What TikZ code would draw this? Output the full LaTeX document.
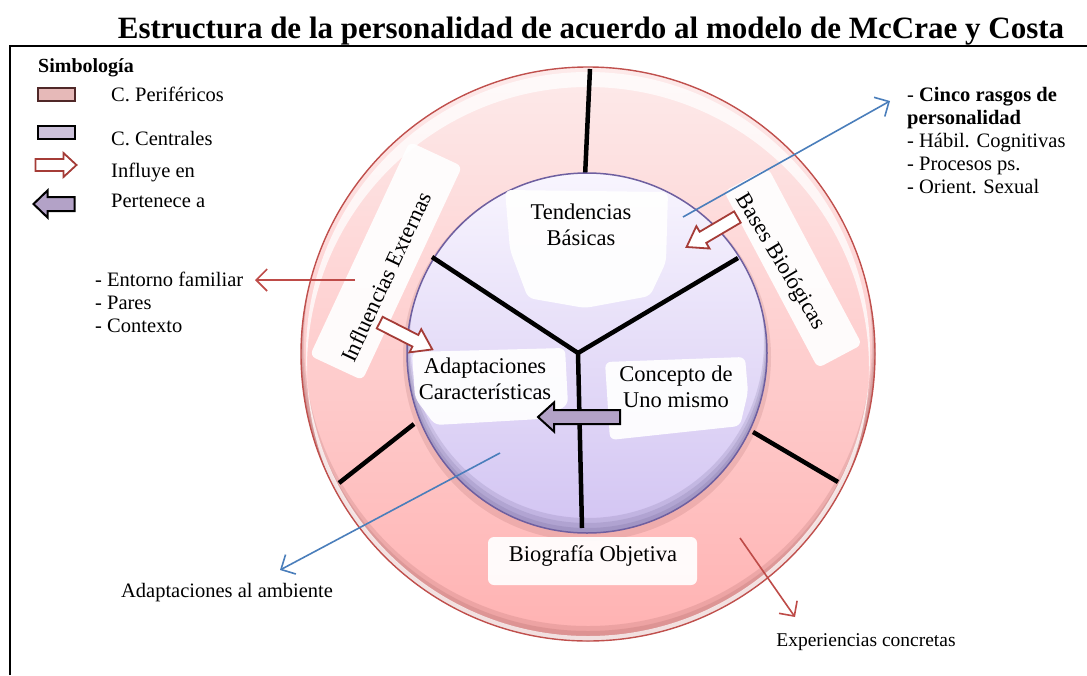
\documentclass[tikz,border=0pt]{standalone}
\usepackage{fontspec}
\setmainfont{Liberation Serif}
\usetikzlibrary{arrows.meta,calc}
\definecolor{blueln}{RGB}{74,126,187}
\definecolor{redln}{RGB}{190,75,72}
\definecolor{arrred}{RGB}{165,60,55}
\definecolor{perpurp}{RGB}{179,162,199}
\definecolor{legpink}{RGB}{230,185,184}
\definecolor{legpurp}{RGB}{204,193,218}
\definecolor{ringtop}{RGB}{253,234,234}
\definecolor{ringbot}{RGB}{255,178,178}
\definecolor{ringedge}{RGB}{192,80,77}
\definecolor{ringrim}{RGB}{120,50,50}
\definecolor{innertop}{RGB}{248,245,254}
\definecolor{innerbot}{RGB}{210,196,242}
\definecolor{inneredge}{RGB}{110,95,160}
\definecolor{innerrim}{RGB}{80,70,120}
\newcommand{\blockarrowshape}[4]{({-(#1)/2},{-(#2)}) -- ({(#1)/2-(#4)},{-(#2)}) -- ({(#1)/2-(#4)},{-(#3)}) -- ({(#1)/2},0) -- ({(#1)/2-(#4)},{#3}) -- ({(#1)/2-(#4)},{#2}) -- ({-(#1)/2},{#2}) -- cycle}
\tikzset{
  body/.style={font=\fontsize{20.5}{23}\selectfont, inner sep=0pt},
  bubble/.style={font=\fontsize{22.5}{26}\selectfont, inner sep=0pt, align=center},
  spoke/.style={line width=4.5pt, black},
  patch/.style={fill=white, opacity=0.93, rounded corners=6pt},
  bluearr/.style={blueln, line width=1.6pt, -{Straight Barb[length=11pt,width=22pt,line width=1.6pt]}},
  redarr/.style={redln, line width=1.6pt, -{Straight Barb[length=11pt,width=22pt,line width=1.6pt]}},
  influyearr/.style={draw=arrred, line width=1.8pt, fill=white, line join=miter},
  pertarr/.style={draw=black, line width=2pt, fill=perpurp, line join=miter}
}
\begin{document}
\begin{tikzpicture}[x=1pt,y=-1pt]
\useasboundingbox (0,0) rectangle (1087,675);
% frame and title
\draw[line width=2.5pt] (10,675) -- (10,46) -- (1087,46);
\node[font=\fontsize{31}{34}\bfseries\selectfont, anchor=base, inner sep=0pt] (title) at (591,38)
  {Estructura de la personalidad de acuerdo al modelo de McCrae y Costa};

% outer circle
\coordinate (O) at (588,354);
\coordinate (I) at (587,353);
\fill[top color=ringtop, bottom color=ringbot] (O) circle[radius=287pt];
\begin{scope}
  \clip (O) circle[radius=287pt];
  \fill[ringrim, opacity=0.13, even odd rule] (O) circle[radius=288pt] ($(O)+(0,-4)$) circle[radius=286pt];
  \fill[ringrim, opacity=0.13, even odd rule] (O) circle[radius=288pt] ($(O)+(0,-8)$) circle[radius=285pt];
  \fill[ringrim, opacity=0.13, even odd rule] (O) circle[radius=288pt] ($(O)+(0,-12)$) circle[radius=284pt];
  \fill[white, opacity=0.75, even odd rule] ($(O)+(0,0)$) circle[radius=282pt] ($(O)+(0,14)$) circle[radius=281pt];
\end{scope}
\draw[ringedge, line width=1.4pt] (O) circle[radius=287pt];

% outer spokes
\draw[spoke] (590,69) -- (585,177);
\draw[spoke] (414,424) -- (339,483);
\draw[spoke] (753,432) -- (838,482);

% shadow of inner circle on ring
\fill[ringrim, opacity=0.12] ($(I)+(0,4)$) circle[radius=184pt];
% inner circle
\fill[top color=innertop, bottom color=innerbot] (I) circle[radius=180pt];
\begin{scope}
  \clip (I) circle[radius=180pt];
  \fill[innerrim, opacity=0.14, even odd rule] (I) circle[radius=181pt] ($(I)+(0,-4)$) circle[radius=179pt];
  \fill[innerrim, opacity=0.14, even odd rule] (I) circle[radius=181pt] ($(I)+(0,-8)$) circle[radius=178pt];
  \fill[innerrim, opacity=0.14, even odd rule] (I) circle[radius=181pt] ($(I)+(0,-12)$) circle[radius=177pt];
\end{scope}
\draw[inneredge, line width=1.5pt] (I) circle[radius=180pt];

% inner spokes
\coordinate (J) at (578,353);
\draw[spoke, line join=miter] (432,257) -- (J) -- (738,258);
\draw[spoke] (J) -- (582,528);

% white patches
\fill[patch] (505,190) -- (668,192) -- (666,262) -- (650,296) -- (585,308) -- (528,298) -- (510,250) -- cycle;
\fill[patch] (412,352) -- (565,348) -- (568,405) -- (540,419) -- (435,425) -- (415,398) -- cycle;
\fill[patch] (605,362) -- (745,357) -- (748,392) -- (740,426) -- (610,440) -- cycle;
\fill[patch] (488,537) rectangle (697,585);
\fill[patch, rotate around={65:(386,261)}] ($(386,261)+(-118pt,-29pt)$) rectangle ($(386,261)+(118pt,29pt)$);
\fill[patch, rotate around={-62:(793,268)}] ($(793,268)+(-100pt,-25pt)$) rectangle ($(793,268)+(100pt,25pt)$);

% labels in circles
\node[bubble] (tb) at (581,225) {Tendencias\\Básicas};
\node[bubble] (ac) at (485,379) {Adaptaciones\\Características};
\node[bubble] (cu) at (676,387) {Concepto de\\Uno mismo};
\node[bubble] (bo) at (593,556) {Biografía Objetiva};
\node[bubble, rotate=65] (ie) at (386,277) {Influencias Externas};
\node[bubble, rotate=-59] (bb) at (780,262) {Bases Biológicas};

% block arrows
\draw[influyearr, shift={(712,232)}, rotate=210.5] \blockarrowshape{59}{6.5}{13}{19};
\draw[influyearr, shift={(406,336)}, rotate=-27] \blockarrowshape{59}{6.5}{13}{19};
\draw[pertarr, shift={(579,417)}, rotate=180] \blockarrowshape{82}{7}{14.5}{16};

% outside texts
\node[body, anchor=west, align=left] (izq) at (95,302) {- Entorno familiar\\- Pares\\- Contexto};
\node[body, anchor=west, align=left] (der) at (907,141) {- \textbf{Cinco rasgos de}\\\textbf{personalidad}\\- Hábil. Cognitivas\\- Procesos ps.\\- Orient. Sexual};
\node[body] (amb) at (227,593) {Adaptaciones al ambiente};
\node[body, font=\fontsize{19.5}{23}\selectfont] (exp) at (866,642) {Experiencias concretas};

% connectors
\coordinate (b1s) at (683,217);
\coordinate (b1e) at (890,101);
\coordinate (b2s) at (500,453);
\coordinate (b2e) at (280,570);
\coordinate (r1s) at (355,280);
\coordinate (r1e) at (255,280);
\coordinate (r2s) at (740,538);
\coordinate (r2e) at (795,617);
\draw[bluearr] (b1s) -- (b1e);
\draw[bluearr] (b2s) -- (b2e);
\draw[redarr] (r1s) -- (r1e);
\draw[redarr] (r2s) -- (r2e);

% legend
\node[body, font=\fontsize{20}{23}\bfseries\selectfont, anchor=west] (simb) at (38,68) {Simbología};
\draw[fill=legpink, draw={rgb,255:red,80;green,40;blue,40}, line width=2pt] (38,88) rectangle (75,101);
\node[body, anchor=west] (lper) at (111,94) {C. Periféricos};
\draw[fill=legpurp, draw=black, line width=2.5pt] (38,126) rectangle (75,139);
\node[body, anchor=west] (lcen) at (111,139) {C. Centrales};
\draw[influyearr, shift={(56,165)}] \blockarrowshape{41}{6}{12}{13};
\node[body, anchor=west] (linf) at (111,172) {Influye en};
\draw[pertarr, shift={(54,204)}, rotate=180] \blockarrowshape{41}{7}{13.5}{14};
\node[body, anchor=west] (lpert) at (111,201) {Pertenece a};
\end{tikzpicture}
\end{document}
